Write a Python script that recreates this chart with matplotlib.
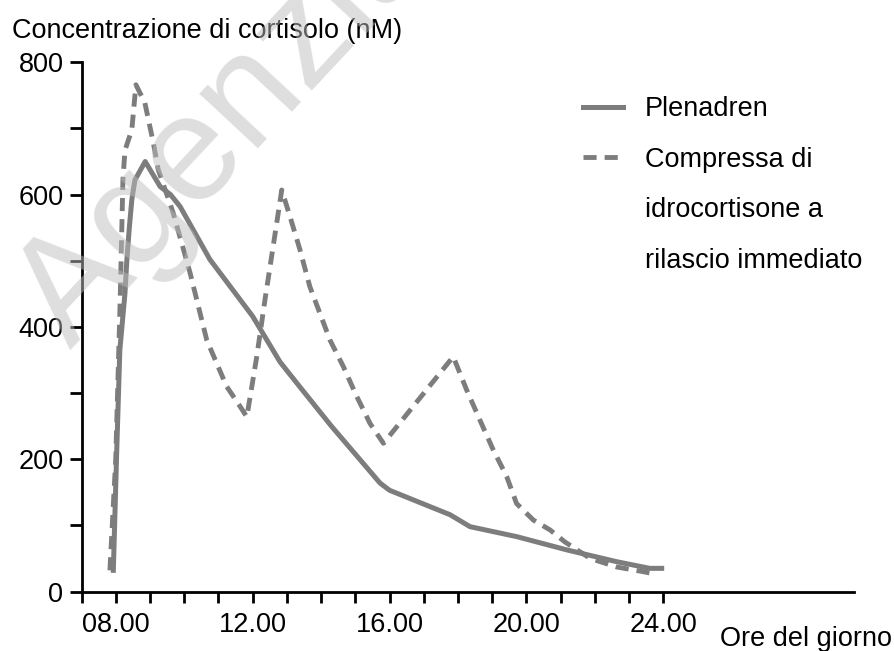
import matplotlib
matplotlib.use('Agg')
import matplotlib.pyplot as plt
from matplotlib.lines import Line2D

plt.rcParams['font.family'] = ['Liberation Sans', 'DejaVu Sans']

# Plenadren (linea continua)
ore_plenadren = [7.93, 8.03, 8.12, 8.27, 8.32, 8.40, 8.47, 8.56, 8.86, 9.30, 9.60, 9.88,
                 10.75, 12.00, 12.80, 13.40, 14.30, 15.72, 16.00, 17.77, 18.35, 19.71,
                 21.17, 22.64, 23.60, 23.95]
cort_plenadren = [32, 214, 365, 451, 497, 552, 592, 622, 650, 612, 600, 582,
                  502, 416, 347, 308, 250, 164, 153, 116, 98, 83,
                  63, 45, 35, 35]

# Compressa di idrocortisone a rilascio immediato (linea tratteggiata)
ore_compressa = [7.83, 8.00, 8.13, 8.21, 8.27, 8.47, 8.59, 8.85, 9.10, 9.24, 9.68, 10.17,
                 10.66, 11.24, 11.63, 11.83, 12.12, 12.36, 12.60, 12.85, 13.09, 13.38,
                 13.67, 14.26, 14.65, 15.04, 15.43, 15.82, 17.86, 18.25, 18.64, 19.03,
                 19.42, 19.71, 20.20, 20.69, 21.12, 21.86, 22.64, 23.41, 23.60]
cort_compressa = [32, 200, 441, 622, 667, 698, 766, 739, 678, 638, 572, 482,
                  380, 310, 280, 264, 355, 441, 522, 607, 567, 517,
                  461, 380, 340, 295, 254, 224, 355, 305, 259, 214,
                  174, 133, 108, 93, 75, 50, 37, 30, 28]

ore_ticks = list(range(7, 25))
ore_etichette = {8: '08.00', 12: '12.00', 16: '16.00', 20: '20.00', 24: '24.00'}
y_ticks = list(range(0, 900, 100))
y_etichette = {0: '0', 200: '200', 400: '400', 600: '600', 800: '800'}

etichetta_1 = 'Plenadren'
etichetta_2 = ['Compressa di', 'idrocortisone a', 'rilascio immediato']

grigio = '#7d7d7d'
fs = 19.5

fig = plt.figure(figsize=(8.94, 6.51), dpi=100)
ax = fig.add_axes([81.5 / 894, 59.5 / 651, (854 - 81.5) / 894, (591.5 - 62.3) / 651])

l1, = ax.plot(ore_plenadren, cort_plenadren, color=grigio, lw=3.6,
              solid_joinstyle='round', clip_on=False)
l2, = ax.plot(ore_compressa, cort_compressa, color=grigio, lw=3.5,
              dashes=(2.7, 1.65), clip_on=False)

ax.set_xlim(7, 7 + (854 - 81.5) / 34.23)
ax.set_ylim(0, 800)

for s in ['top', 'right']:
    ax.spines[s].set_visible(False)
for s in ['left', 'bottom']:
    ax.spines[s].set_linewidth(2)

ax.set_xticks(ore_ticks)
ax.set_xticklabels([ore_etichette.get(h, '') for h in ore_ticks])
ax.set_yticks(y_ticks)
ax.set_yticklabels([y_etichette.get(v, '') for v in y_ticks])
ax.tick_params(axis='x', length=8, width=2, pad=7, labelsize=fs)
ax.tick_params(axis='y', length=9, width=2, pad=4, labelsize=fs)

# legenda
vuoto = Line2D([], [], color='none')
ax.legend([l1, l2, vuoto, vuoto], [etichetta_1] + etichetta_2,
          loc='upper left', bbox_to_anchor=(583 / 894, 1 - 96 / 651),
          bbox_transform=fig.transFigure, frameon=False, fontsize=fs,
          handlelength=1.48, handletextpad=0.81, labelspacing=0.91,
          borderpad=0, borderaxespad=0)

fig.text(11.7 / 894, 1 - 38.3 / 651, 'Concentrazione di cortisolo (nM)',
         fontsize=fs, va='baseline', ha='left')
fig.text(720 / 894, 1 - 646 / 651, 'Ore del giorno',
         fontsize=fs, va='baseline', ha='left')

# filigrana
fig.text(70 / 894, 1 - 350 / 651, 'Agenzia', rotation=47, fontsize=108, color='#bdbdbd',
         alpha=0.5, ha='left', va='baseline', rotation_mode='anchor', zorder=10)

fig.savefig('out.png', dpi=100)
